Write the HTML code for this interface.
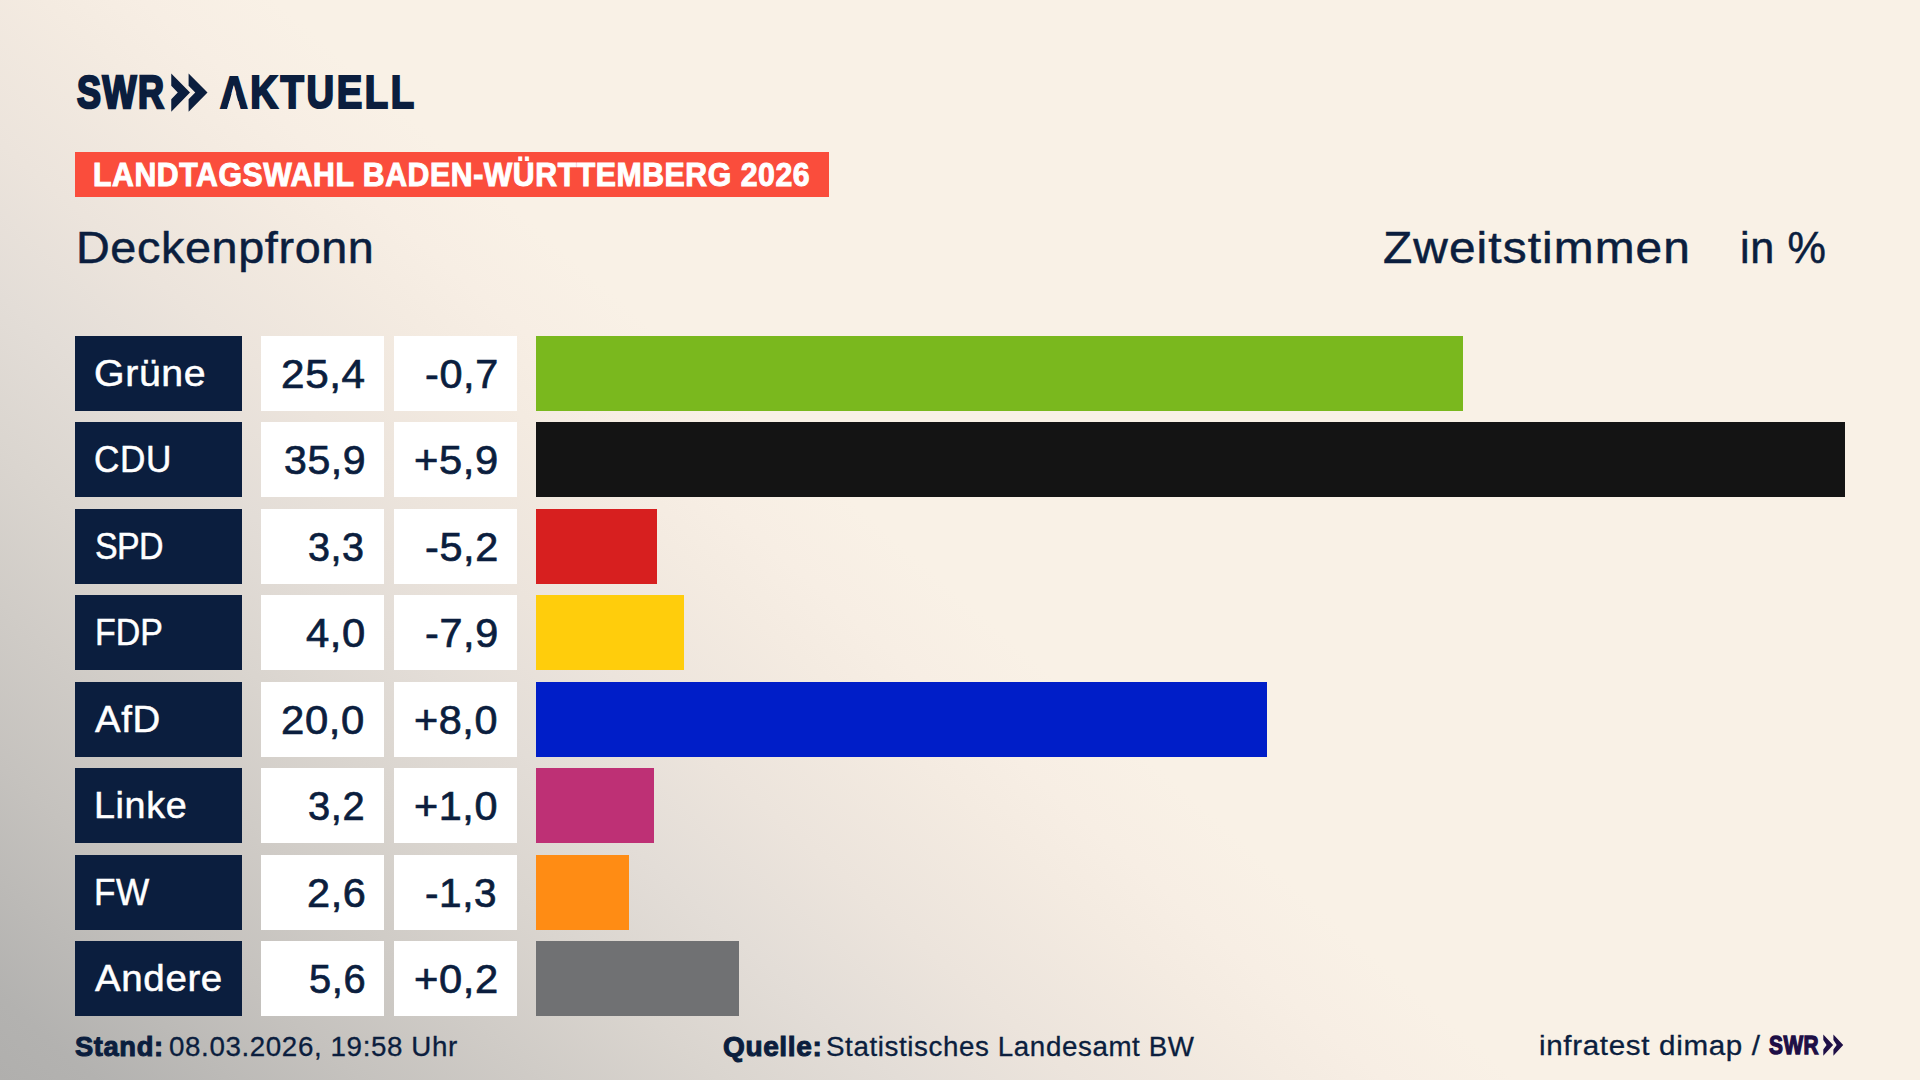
<!DOCTYPE html>
<html lang="de"><head><meta charset="utf-8"><title>SWR AKTUELL – Landtagswahl Baden-Württemberg 2026 – Deckenpfronn – Zweitstimmen in %</title>
<style>
html,body{margin:0;padding:0}
body{width:1920px;height:1080px;overflow:hidden;position:relative;font-family:"Liberation Sans",sans-serif;color:#0b1e3e;background:#f9f1e6}
.bg{position:absolute;left:0;top:0;width:1920px;height:1080px;background:linear-gradient(41deg,#b0afad 0%,#b3b2b0 3%,#c5c2be 11.4%,#dad5cf 22.8%,#e3ddd7 28.5%,#ece4dc 34.1%,#f4ebe1 40.7%,#f7eee4 43.8%,#f9f1e6 48%)}
.t{position:absolute;white-space:nowrap;line-height:1;display:block}
.box{position:absolute}
.lab{background:#0b1e3e;left:75px;width:167px}
.val{background:#fff;left:261px;width:123px}
.dif{background:#fff;left:394px;width:123.3px}
.bar{left:536px}
#akt{clip-path:polygon(-0.1em 0.1345em,0.76em 0.1345em,0.76em -0.2em,8em -0.2em,8em 1.2em,0.76em 1.2em,0.76em 0.8709em,0.5357em 0.8709em,0.3608em 0.342em,0.1865em 0.8709em,-0.1em 0.8709em)}
</style></head><body><div class="bg"></div>
<header>
<span class="t" id="swr" style="left:77.00px;top:69.35px;font-size:46px;font-weight:700;color:#0b1e3e;letter-spacing:2.05px;transform:scaleX(0.78);transform-origin:0 0;-webkit-text-stroke:2.6px #0b1e3e;">SWR</span>
<svg class="box" style="left:171px;top:73px" width="38" height="40" viewBox="171 73 38 40"><path fill="#0b1e3e" d="M171.25 73.5 L190 92.5 L171.25 111.75 L171.25 99.25 L177.75 92.6 L171.25 85.75Z M188.6 73.5 L207.5 92.5 L188.6 111.75 L188.6 99.25 L195.25 92.6 L188.6 85.75Z"/></svg>
<span class="t" id="akt" style="left:220.30px;top:69.88px;font-size:45.5px;font-weight:700;color:#0b1e3e;letter-spacing:3.12px;transform:scaleX(0.84);transform-origin:0 0;-webkit-text-stroke:2.2px #0b1e3e;">AKTUELL</span>
<div class="box" style="left:75px;top:152px;width:754px;height:44.5px;background:#fa4d3c"></div>
<span class="t" id="title" style="left:93.20px;top:158.95px;font-size:32.3px;font-weight:700;color:#fff;letter-spacing:0.60px;transform:scaleX(0.936);transform-origin:0 0;-webkit-text-stroke:1px #fff;">LANDTAGSWAHL BADEN-WÜRTTEMBERG 2026</span>
<span class="t" id="ort" style="left:76.20px;top:227.07px;font-size:43.5px;font-weight:400;color:#0b1e3e;letter-spacing:0.59px;transform:scaleX(1.074);transform-origin:0 0;-webkit-text-stroke:0.5px #0b1e3e;">Deckenpfronn</span>
<span class="t" id="zw" style="left:1382.75px;top:227.17px;font-size:43.5px;font-weight:400;color:#0b1e3e;letter-spacing:0.97px;transform:scaleX(1.1);transform-origin:0 0;-webkit-text-stroke:0.5px #0b1e3e;">Zweitstimmen</span>
<span class="t" id="inp" style="left:1739.50px;top:227.17px;font-size:43.5px;font-weight:400;color:#0b1e3e;letter-spacing:0.61px;transform:scaleX(0.993);transform-origin:0 0;-webkit-text-stroke:0.5px #0b1e3e;">in %</span>
</header>
<main>
<div class="row"><div class="box lab" style="top:336.00px;height:75px"></div><div class="box val" style="top:336.00px;height:75px"></div><div class="box dif" style="top:336.00px;height:75px"></div><div class="box bar" style="top:336.00px;height:75px;width:927px;background:#7ab81e"></div><span class="t" id="l0" style="left:93.80px;top:356.20px;font-size:36.5px;font-weight:400;color:#fff;letter-spacing:0.60px;transform:scaleX(1.075);transform-origin:0 0;-webkit-text-stroke:0.5px #fff;">Grüne</span><span class="t" id="v0" style="left:281.30px;top:354.03px;font-size:40px;font-weight:400;color:#0b1e3e;letter-spacing:0.60px;transform:scaleX(1.056);transform-origin:0 0;-webkit-text-stroke:0.7px #0b1e3e;">25,4</span><span class="t" id="d0" style="left:424.80px;top:354.03px;font-size:40px;font-weight:400;color:#0b1e3e;letter-spacing:0.60px;transform:scaleX(1.034);transform-origin:0 0;-webkit-text-stroke:0.7px #0b1e3e;">-0,7</span></div>
<div class="row"><div class="box lab" style="top:422.00px;height:75px"></div><div class="box val" style="top:422.00px;height:75px"></div><div class="box dif" style="top:422.00px;height:75px"></div><div class="box bar" style="top:422.00px;height:75px;width:1309px;background:#141414"></div><span class="t" id="l1" style="left:94.40px;top:442.20px;font-size:36.5px;font-weight:400;color:#fff;letter-spacing:0.58px;transform:scaleX(0.963);transform-origin:0 0;-webkit-text-stroke:0.5px #fff;">CDU</span><span class="t" id="v1" style="left:283.90px;top:440.03px;font-size:40px;font-weight:400;color:#0b1e3e;letter-spacing:0.59px;transform:scaleX(1.025);transform-origin:0 0;-webkit-text-stroke:0.7px #0b1e3e;">35,9</span><span class="t" id="d1" style="left:413.90px;top:440.03px;font-size:40px;font-weight:400;color:#0b1e3e;letter-spacing:0.59px;transform:scaleX(1.042);transform-origin:0 0;-webkit-text-stroke:0.7px #0b1e3e;">+5,9</span></div>
<div class="row"><div class="box lab" style="top:509.00px;height:75px"></div><div class="box val" style="top:509.00px;height:75px"></div><div class="box dif" style="top:509.00px;height:75px"></div><div class="box bar" style="top:509.00px;height:75px;width:121px;background:#d71f1f"></div><span class="t" id="l2" style="left:94.60px;top:529.20px;font-size:36.5px;font-weight:400;color:#fff;letter-spacing:-0.73px;transform:scaleX(0.93);transform-origin:0 0;-webkit-text-stroke:0.5px #fff;">SPD</span><span class="t" id="v2" style="left:308.30px;top:527.03px;font-size:40px;font-weight:400;color:#0b1e3e;letter-spacing:0.60px;transform:scaleX(0.987);transform-origin:0 0;-webkit-text-stroke:0.7px #0b1e3e;">3,3</span><span class="t" id="d2" style="left:424.80px;top:527.03px;font-size:40px;font-weight:400;color:#0b1e3e;letter-spacing:0.60px;transform:scaleX(1.034);transform-origin:0 0;-webkit-text-stroke:0.7px #0b1e3e;">-5,2</span></div>
<div class="row"><div class="box lab" style="top:595.00px;height:75px"></div><div class="box val" style="top:595.00px;height:75px"></div><div class="box dif" style="top:595.00px;height:75px"></div><div class="box bar" style="top:595.00px;height:75px;width:148px;background:#ffcd0c"></div><span class="t" id="l3" style="left:94.70px;top:615.20px;font-size:36.5px;font-weight:400;color:#fff;letter-spacing:0.03px;transform:scaleX(0.93);transform-origin:0 0;-webkit-text-stroke:0.5px #fff;">FDP</span><span class="t" id="v3" style="left:306.00px;top:613.03px;font-size:40px;font-weight:400;color:#0b1e3e;letter-spacing:0.61px;transform:scaleX(1.044);transform-origin:0 0;-webkit-text-stroke:0.7px #0b1e3e;">4,0</span><span class="t" id="d3" style="left:424.80px;top:613.03px;font-size:40px;font-weight:400;color:#0b1e3e;letter-spacing:0.60px;transform:scaleX(1.034);transform-origin:0 0;-webkit-text-stroke:0.7px #0b1e3e;">-7,9</span></div>
<div class="row"><div class="box lab" style="top:682.00px;height:75px"></div><div class="box val" style="top:682.00px;height:75px"></div><div class="box dif" style="top:682.00px;height:75px"></div><div class="box bar" style="top:682.00px;height:75px;width:731px;background:#001ec8"></div><span class="t" id="l4" style="left:94.50px;top:702.20px;font-size:36.5px;font-weight:400;color:#fff;letter-spacing:0.61px;transform:scaleX(1.051);transform-origin:0 0;-webkit-text-stroke:0.5px #fff;">AfD</span><span class="t" id="v4" style="left:281.30px;top:700.03px;font-size:40px;font-weight:400;color:#0b1e3e;letter-spacing:0.59px;transform:scaleX(1.046);transform-origin:0 0;-webkit-text-stroke:0.7px #0b1e3e;">20,0</span><span class="t" id="d4" style="left:413.90px;top:700.03px;font-size:40px;font-weight:400;color:#0b1e3e;letter-spacing:0.61px;transform:scaleX(1.033);transform-origin:0 0;-webkit-text-stroke:0.7px #0b1e3e;">+8,0</span></div>
<div class="row"><div class="box lab" style="top:768.00px;height:75px"></div><div class="box val" style="top:768.00px;height:75px"></div><div class="box dif" style="top:768.00px;height:75px"></div><div class="box bar" style="top:768.00px;height:75px;width:118px;background:#be3075"></div><span class="t" id="l5" style="left:93.70px;top:788.20px;font-size:36.5px;font-weight:400;color:#fff;letter-spacing:0.60px;transform:scaleX(1.033);transform-origin:0 0;-webkit-text-stroke:0.5px #fff;">Linke</span><span class="t" id="v5" style="left:308.30px;top:786.03px;font-size:40px;font-weight:400;color:#0b1e3e;letter-spacing:0.61px;transform:scaleX(0.996);transform-origin:0 0;-webkit-text-stroke:0.7px #0b1e3e;">3,2</span><span class="t" id="d5" style="left:413.90px;top:786.03px;font-size:40px;font-weight:400;color:#0b1e3e;letter-spacing:0.61px;transform:scaleX(1.033);transform-origin:0 0;-webkit-text-stroke:0.7px #0b1e3e;">+1,0</span></div>
<div class="row"><div class="box lab" style="top:855.00px;height:75px"></div><div class="box val" style="top:855.00px;height:75px"></div><div class="box dif" style="top:855.00px;height:75px"></div><div class="box bar" style="top:855.00px;height:75px;width:93px;background:#ff8c14"></div><span class="t" id="l6" style="left:93.70px;top:875.20px;font-size:36.5px;font-weight:400;color:#fff;letter-spacing:0.62px;transform:scaleX(0.963);transform-origin:0 0;-webkit-text-stroke:0.5px #fff;">FW</span><span class="t" id="v6" style="left:306.50px;top:873.03px;font-size:40px;font-weight:400;color:#0b1e3e;letter-spacing:0.59px;transform:scaleX(1.036);transform-origin:0 0;-webkit-text-stroke:0.7px #0b1e3e;">2,6</span><span class="t" id="d6" style="left:424.80px;top:873.03px;font-size:40px;font-weight:400;color:#0b1e3e;letter-spacing:0.59px;transform:scaleX(1.012);transform-origin:0 0;-webkit-text-stroke:0.7px #0b1e3e;">-1,3</span></div>
<div class="row"><div class="box lab" style="top:941.00px;height:75px"></div><div class="box val" style="top:941.00px;height:75px"></div><div class="box dif" style="top:941.00px;height:75px"></div><div class="box bar" style="top:941.00px;height:75px;width:203px;background:#707173"></div><span class="t" id="l7" style="left:94.50px;top:961.20px;font-size:36.5px;font-weight:400;color:#fff;letter-spacing:0.59px;transform:scaleX(1.055);transform-origin:0 0;-webkit-text-stroke:0.5px #fff;">Andere</span><span class="t" id="v7" style="left:308.60px;top:959.03px;font-size:40px;font-weight:400;color:#0b1e3e;letter-spacing:0.61px;transform:scaleX(0.996);transform-origin:0 0;-webkit-text-stroke:0.7px #0b1e3e;">5,6</span><span class="t" id="d7" style="left:413.90px;top:959.03px;font-size:40px;font-weight:400;color:#0b1e3e;letter-spacing:0.59px;transform:scaleX(1.042);transform-origin:0 0;-webkit-text-stroke:0.7px #0b1e3e;">+0,2</span></div>
</main>
<footer>
<span class="t" id="f1b" style="left:75.25px;top:1033.64px;font-size:27px;font-weight:700;color:#0b1e3e;letter-spacing:0.60px;transform:scaleX(1.012);transform-origin:0 0;-webkit-text-stroke:1px #0b1e3e;">Stand:</span>
<span class="t" id="f1" style="left:169.00px;top:1033.54px;font-size:27px;font-weight:400;color:#0b1e3e;letter-spacing:0.60px;transform:scaleX(1.027);transform-origin:0 0;-webkit-text-stroke:0.3px #0b1e3e;">08.03.2026, 19:58 Uhr</span>
<span class="t" id="f2b" style="left:723.10px;top:1033.64px;font-size:27px;font-weight:700;color:#0b1e3e;letter-spacing:0.60px;transform:scaleX(1.038);transform-origin:0 0;-webkit-text-stroke:1px #0b1e3e;">Quelle:</span>
<span class="t" id="f2" style="left:826.00px;top:1033.54px;font-size:27px;font-weight:400;color:#0b1e3e;letter-spacing:0.60px;transform:scaleX(1.026);transform-origin:0 0;-webkit-text-stroke:0.3px #0b1e3e;">Statistisches Landesamt BW</span>
<span class="t" id="f3" style="left:1538.70px;top:1033.14px;font-size:27px;font-weight:400;color:#0b1e3e;letter-spacing:0.60px;transform:scaleX(1.096);transform-origin:0 0;-webkit-text-stroke:0.3px #0b1e3e;">infratest dimap /</span>
<span class="t" id="f4" style="left:1769.40px;top:1032.19px;font-size:26px;font-weight:700;color:#1e0f46;letter-spacing:0.69px;transform:scaleX(0.8);transform-origin:0 0;-webkit-text-stroke:1.4px #1e0f46;">SWR</span>
<svg class="box" style="left:1823px;top:1034px" width="22" height="23" viewBox="1823 1034 22 23"><path fill="#1e0f46" d="M1823.3 1034.4 L1833.1 1045.1 L1823.3 1055.8 L1823.3 1049.4 L1826.6 1045.1 L1823.3 1040.1Z M1833.4 1034.4 L1843.2 1045.1 L1833.4 1055.8 L1833.4 1049.4 L1836.7 1045.1 L1833.4 1040.1Z"/></svg>
</footer>
</body></html>
